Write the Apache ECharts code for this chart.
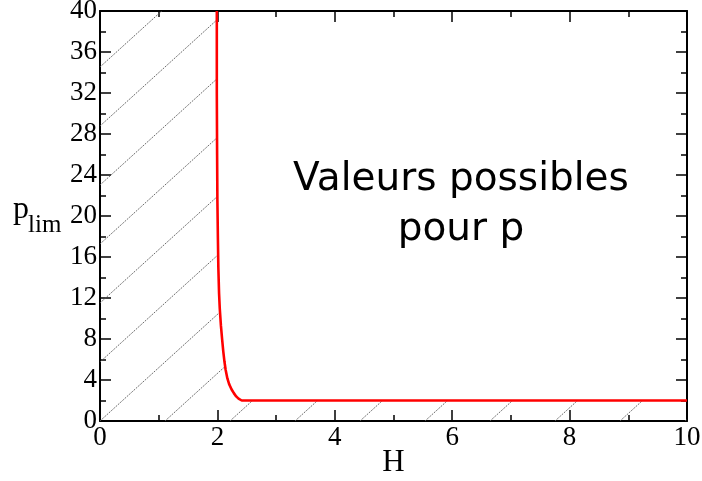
<!DOCTYPE html>
<html>
<head>
<meta charset="utf-8">
<script src="https://cdn.jsdelivr.net/npm/echarts@6/dist/echarts.min.js"></script>
<style>
  html, body { margin: 0; padding: 0; background: #fff; }
  #chart { width: 702px; height: 481px; }
</style>
</head>
<body>
<div id="chart"></div>
<script>
// Limit curve p_lim(H): steep branch near H = 2, then the floor p = 2
const curveH = [1.99, 1.99, 1.995, 2.0, 2.008, 2.016, 2.028, 2.04, 2.06, 2.08, 2.1, 2.12, 2.14, 2.17, 2.2, 2.24, 2.28, 2.32, 2.36, 2.39, 2.414, 10];
const curveP = [40, 32, 26, 21.5, 18, 15, 12.5, 11, 9.3, 8.0, 6.8, 5.8, 5.0, 4.15, 3.6, 3.1, 2.72, 2.4, 2.18, 2.06, 2, 2];

// Axis ranges and ticks
const xTicks = [0, 2, 4, 6, 8, 10];
const yTicks = [0, 4, 8, 12, 16, 20, 24, 28, 32, 36, 40];

const xTitle = 'H';
const yTitleMain = 'p';
const yTitleSub = 'lim';
const annotation = 'Valeurs possibles\npour p';

const curve = curveH.map((h, i) => [h, curveP[i]]);
// Excluded region: everything left of / below the curve
const excluded = [[xTicks[0], yTicks[yTicks.length - 1]]].concat(curve);

// Hatch tile: thin dashed diagonals, repeated over the excluded region
function hatchTile() {
  const w = 65, h = 59;
  const c = document.createElement('canvas');
  c.width = w; c.height = h;
  const ctx = c.getContext('2d');
  const L = Math.sqrt(w * w + h * h);
  const period = L / 29;
  ctx.strokeStyle = '#5a5a5a';
  ctx.lineWidth = 0.9;
  ctx.setLineDash([period * 0.62, period * 0.38]);
  [-w, 0, w].forEach(dx => {
    ctx.beginPath();
    ctx.lineDashOffset = 0;
    ctx.moveTo(dx - 2 * w, h + 2 * h);
    ctx.lineTo(dx + 2 * w, h - 2 * h);
    ctx.stroke();
  });
  return c;
}

const serif = "'Liberation Serif', 'Times New Roman', serif";

const tickCommon = {
  axisLine: { show: true, onZero: false, lineStyle: { color: '#000', width: 2 } },
  axisTick: { show: true, inside: true, length: 11, lineStyle: { color: '#000', width: 1.5 } },
  minorTick: { show: true, splitNumber: 2, length: 6, lineStyle: { color: '#000', width: 1.5 } },
  splitLine: { show: false },
  minorSplitLine: { show: false }
};

const chart = echarts.init(document.getElementById('chart'), null, { renderer: 'canvas' });
chart.setOption({
  animation: false,
  backgroundColor: '#fff',
  grid: { left: 100, right: 15, top: 11, bottom: 60, containLabel: false, outerBoundsMode: 'none' },
  xAxis: [
    Object.assign({
      type: 'value', position: 'bottom',
      min: xTicks[0], max: xTicks[xTicks.length - 1], interval: 2,
      axisLabel: { show: true, fontFamily: serif, fontSize: 27, color: '#000', margin: 3, showMinLabel: true, showMaxLabel: true },
      name: xTitle, nameLocation: 'middle', nameGap: 26, nameMoveOverlap: false,
      nameTextStyle: { fontFamily: serif, fontSize: 31, color: '#000', verticalAlign: 'top' }
    }, tickCommon),
    Object.assign({
      type: 'value', position: 'top',
      min: xTicks[0], max: xTicks[xTicks.length - 1], interval: 2,
      axisLabel: { show: false }
    }, tickCommon)
  ],
  yAxis: [
    Object.assign({
      type: 'value', position: 'left',
      min: yTicks[0], max: yTicks[yTicks.length - 1], interval: 4,
      axisLabel: { show: true, fontFamily: serif, fontSize: 27, color: '#000', margin: 3, showMinLabel: true, showMaxLabel: true }
    }, tickCommon),
    Object.assign({
      type: 'value', position: 'right',
      min: yTicks[0], max: yTicks[yTicks.length - 1], interval: 4,
      axisLabel: { show: false }
    }, tickCommon)
  ],
  series: [
    {
      type: 'line',
      data: excluded,
      symbol: 'none',
      silent: true,
      lineStyle: { width: 0, opacity: 0 },
      areaStyle: {
        origin: 'start',
        opacity: 1,
        color: { image: hatchTile(), repeat: 'repeat', x: 100, y: 421 }
      },
      z: 1
    },
    {
      type: 'line',
      data: curve,
      symbol: 'none',
      lineStyle: { color: '#ff0000', width: 2.6 },
      z: 3
    }
  ],
  graphic: [
    {
      type: 'text',
      x: 13, y: 210,
      style: { text: yTitleMain, fontFamily: serif, fontSize: 32, fill: '#000', align: 'left', verticalAlign: 'middle' }
    },
    {
      type: 'text',
      x: 28, y: 225,
      style: { text: yTitleSub, fontFamily: serif, fontSize: 25, fill: '#000', align: 'left', verticalAlign: 'middle' }
    },
    {
      type: 'text',
      x: 461, y: 205,
      style: {
        text: annotation,
        fontFamily: "'DejaVu Sans', sans-serif",
        fontSize: 39,
        lineHeight: 50,
        fill: '#000',
        align: 'center',
        verticalAlign: 'middle'
      },
      z: 10
    }
  ]
});
</script>
</body>
</html>
